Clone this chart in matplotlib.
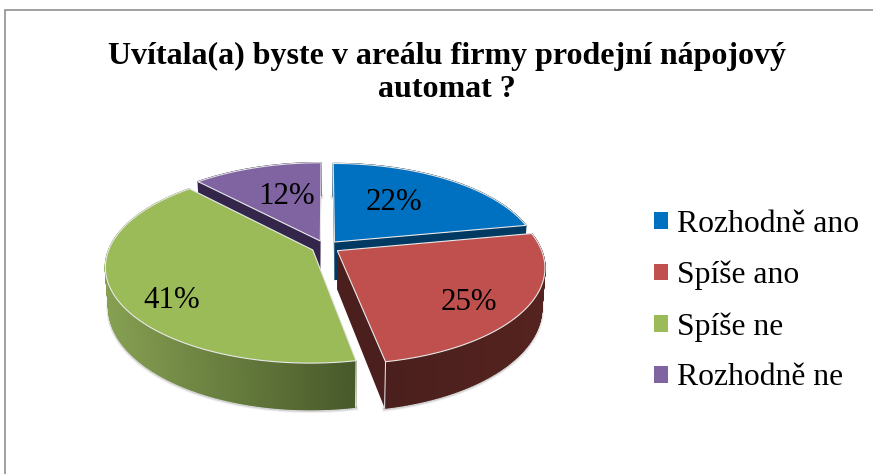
#!/usr/bin/env python3
import numpy as np
import matplotlib
matplotlib.use("Agg")
import matplotlib.pyplot as plt
from matplotlib.patches import Patch

title = "Uvítala(a) byste v areálu firmy prodejní nápojový\nautomat ?"
categories = ["Rozhodně ano", "Spíše ano", "Spíše ne", "Rozhodně ne"]
values = [22, 25, 41, 12]
top_colors = ["#0070C0", "#C0504D", "#9BBB59", "#8064A2"]
side_left = ["#003A62", "#4A1F1D", "#86A052", "#33264A"]
side_right = ["#003A62", "#55231F", "#48592A", "#33264A"]
label_xy = [(394, 202), (469, 302), (172, 301), (287, 197)]

W, H = 873, 474
CX, CY = 325.5, 247    # pie centre, in pixels
R = 203                # radius
TILT = 0.459           # squash of the ground plane
PERSP = 1 / 6          # back is smaller than front
DEPTH = 38.5           # thickness at mid-depth
EXPLODE = 0.07
BOTTOM_SHRINK = 0.985


def project(u, v, bottom=False):
    # u, v on the pie plane, v pointing away from the viewer
    s = 1 / (1 + PERSP * v)
    x = R * u * s
    y = R * TILT * v * s
    if bottom:
        return CX + x * BOTTOM_SHRINK, CY - y + DEPTH * s
    return CX + x, CY - y


def wedge_arc(a0, a1, off_u, off_v, bottom=False):
    t = np.radians(np.linspace(a0, a1, max(int(a1 - a0) * 2, 8)))
    return project(np.sin(t) + off_u, np.cos(t) + off_v, bottom)


def mix(c0, c1, f):
    c0, c1 = np.array(matplotlib.colors.to_rgb(c0)), np.array(matplotlib.colors.to_rgb(c1))
    return tuple(c0 + (c1 - c0) * f)


fig = plt.figure(figsize=(W / 100, H / 100), dpi=100)
ax = fig.add_axes([0, 0, 1, 1])
ax.set_xlim(0, W)
ax.set_ylim(H, 0)
ax.axis("off")

plt.rcParams["font.family"] = ["Liberation Serif", "DejaVu Serif"]

# chart frame, only top and left are inside the picture
ax.plot([5, 5, W], [H, 10, 10], color="#868686", lw=1.1, solid_joinstyle="miter")

shares = np.array(values) / sum(values)
ends = np.cumsum(shares) * 360
starts = np.r_[0, ends[:-1]]

# back wedges first
for i in [3, 0, 2, 1]:
    a0, a1 = starts[i], ends[i]
    mid = np.radians((a0 + a1) / 2)
    ou, ov = EXPLODE * np.sin(mid), EXPLODE * np.cos(mid)

    xt, yt = wedge_arc(a0, a1, ou, ov)
    xb, yb = wedge_arc(a0, a1, ou, ov, bottom=True)
    ax_, ay_ = project(ou, ov)
    bx_, by_ = project(ou, ov, bottom=True)

    # soft shadow round the solid
    for lw, alpha in [(3.5, 0.10), (2, 0.18)]:
        ax.plot(xb, yb + 1, color="0.35", lw=lw, alpha=alpha, zorder=1)

    z = {3: 2, 0: 3, 2: 4, 1: 5}[i]
    # cut faces
    for xr, yr, xrb, yrb in [(xt[0], yt[0], xb[0], yb[0]), (xt[-1], yt[-1], xb[-1], yb[-1])]:
        ax.fill([ax_, xr, xrb, bx_], [ay_, yr, yrb, by_], color=side_left[i],
                lw=0, zorder=z)
        if i == 1 or i == 2:
            ax.plot([xr, xrb], [yr, yrb], color="#f0f0f0", lw=0.7, zorder=z + 0.2)
    # rim, shaded from left to right
    for k in range(len(xt) - 1):
        f = np.clip((xt[k] - 105) / 250, 0, 1) if i == 2 else (xt[k] - xt.min()) / max(xt.max() - xt.min(), 1)
        ax.fill([xt[k], xt[k + 1], xb[k + 1], xb[k]], [yt[k], yt[k + 1], yb[k + 1], yb[k]],
                color=mix(side_left[i], side_right[i], f), lw=1.0, zorder=z + 0.1)
    # top face
    ax.fill(np.r_[ax_, xt], np.r_[ay_, yt], facecolor=top_colors[i],
            edgecolor="#e8e8e8", lw=0.8, zorder=z + 0.3)

for (x, y), v in zip(label_xy, values):
    ax.text(x, y, f"{v}%", fontsize=22.2, ha="center", va="center", color="black", zorder=10)

ax.text((107 + 786) / 2, 73, title, fontsize=23, fontweight="bold", ha="center", va="center",
        linespacing=1.15, color="black")

handles = [Patch(facecolor=c, edgecolor="none") for c in top_colors]
ax.legend(handles, categories, loc="upper left", bbox_to_anchor=(654 / W, 1 - 210 / H),
          frameon=False, fontsize=22.75, handlelength=0.44, handleheight=0.44,
          handletextpad=0.28, labelspacing=0.69, borderpad=0, borderaxespad=0)

fig.savefig("out.png", dpi=100)
